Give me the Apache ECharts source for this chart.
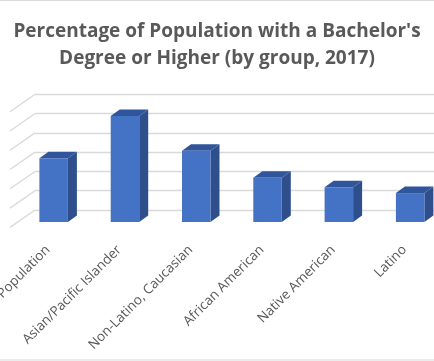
<!DOCTYPE html>
<html>
<head>
<meta charset="utf-8">
<script src="https://cdn.jsdelivr.net/npm/echarts@6/dist/echarts.min.js"></script>
<style>html,body{margin:0;padding:0;background:#fff;}#c{width:434px;height:361px;}</style>
</head>
<body>
<div id="c"></div>
<script>
var titleText = "Percentage of Population with a Bachelor's\nDegree or Higher (by group, 2017)";
var categories = ['Total Population', 'Asian/Pacific Islander', 'Non-Latino, Caucasian', 'African American', 'Native American', 'Latino'];
var values = [33, 55, 37, 23, 18, 15];
var wallTicks = [0, 10, 20, 30, 40, 50, 60];

var chart = echarts.init(document.getElementById('c'), null, {renderer: 'canvas'});
var BW = 28.5, DX = 9, DY = 6.5;
var option = {
  animation: false,
  backgroundColor: '#fff',
  title: {
    text: titleText,
    left: 'center',
    top: 13,
    textStyle: {fontFamily: 'Open Sans', fontSize: 19, fontWeight: 'bold', color: '#595959', lineHeight: 27}
  },
  graphic: [{
    type: 'rect', shape: {x: -2, y: 0.5, width: 438, height: 359.5},
    style: {fill: 'none', stroke: '#d9d9d9', lineWidth: 1}, silent: true, z: 100
  }],
  grid: [
    {left: 35, right: -2, top: 94.3, bottom: 151, outerBoundsMode: 'none', containLabel: false},
    {left: 18, right: -11.8, top: 106.3, bottom: 139, outerBoundsMode: 'none', containLabel: false}
  ],
  xAxis: [
    {gridIndex: 0, type: 'value', min: 0, max: 1, show: false},
    {gridIndex: 1, type: 'category', data: categories,
     axisLine: {show: false}, axisTick: {show: false}, splitLine: {show: false},
     axisLabel: {rotate: 45, margin: 20, padding: [0, 8, 0, 0], interval: 0, fontFamily: 'Open Sans', fontSize: 13.5, color: '#595959'}}
  ],
  yAxis: [
    {gridIndex: 0, type: 'value', min: 0, max: 60, interval: 10,
     axisLabel: {show: false}, axisLine: {show: false}, axisTick: {show: false},
     splitLine: {show: true, lineStyle: {color: '#d9d9d9', width: 1.3}}},
    {gridIndex: 1, type: 'value', min: 0, max: 60, interval: 10, show: false, splitLine: {show: false}}
  ],
  series: [
    {
      type: 'custom', xAxisIndex: 0, yAxisIndex: 0, silent: true,
      data: wallTicks.map(function (t) { return [0, t]; }),
      renderItem: function (params, api) {
        var p = api.coord([0, api.value(1)]);
        return {type: 'line', shape: {x1: p[0], y1: p[1], x2: p[0] - 25, y2: p[1] + 17.4},
          style: {stroke: '#d9d9d9', lineWidth: 1.3}};
      }
    },
    {
      type: 'custom', xAxisIndex: 1, yAxisIndex: 1, silent: true,
      data: values.map(function (v, i) { return [i, v]; }),
      renderItem: function (params, api) {
        var top = api.coord([api.value(0), api.value(1)]);
        var bot = api.coord([api.value(0), 0]);
        var l = top[0] - BW / 2, r = top[0] + BW / 2, t = top[1], b = bot[1];
        return {type: 'group', children: [
          {type: 'polygon', shape: {points: [[r, t], [r + DX, t - DY], [r + DX, b - DY], [r, b]]},
           style: {fill: '#2E4F8C'}},
          {type: 'polygon', shape: {points: [[l, t], [l + DX, t - DY], [r + DX, t - DY], [r, t]]},
           style: {fill: '#30559A'}},
          {type: 'rect', shape: {x: l, y: t, width: BW, height: b - t}, style: {fill: '#4472C4'}}
        ]};
      }
    }
  ]
};
chart.setOption(option);
</script>
</body>
</html>
